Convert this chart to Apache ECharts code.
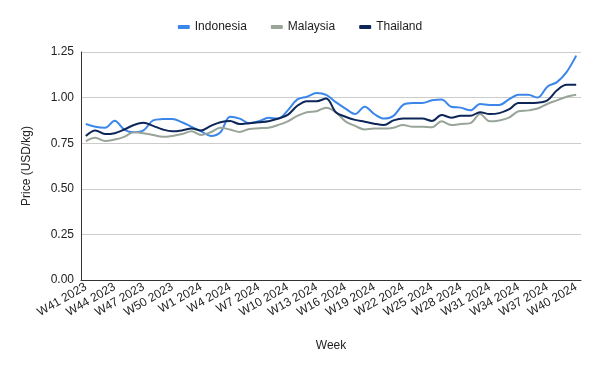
<!DOCTYPE html>
<html>
<head>
<meta charset="utf-8">
<script src="https://cdn.jsdelivr.net/npm/echarts@6/dist/echarts.min.js"></script>
<style>html,body{margin:0;padding:0;background:#fff;}#c{width:600px;height:371px;}</style>
</head>
<body>
<div id="c"></div>
<script>
const weeks = [];
for (let w = 41; w <= 52; w++) weeks.push('W' + w + ' 2023');
for (let w = 1; w <= 40; w++) weeks.push('W' + w + ' 2024');

const indonesia = [0.855,0.84,0.835,0.873,0.825,0.81,0.82,0.875,0.882,0.883,
  0.865,0.84,0.815,0.79,0.81,0.895,0.885,0.86,0.87,0.89,
  0.885,0.93,0.99,1.005,1.025,1.015,0.975,0.94,0.91,0.95,
  0.91,0.885,0.90,0.96,0.97,0.97,0.985,0.99,0.95,0.945,
  0.93,0.965,0.96,0.96,0.99,1.015,1.015,1.0,1.06,1.085,
  1.14,1.23];
const malaysia = [0.762,0.78,0.762,0.77,0.785,0.81,0.805,0.795,0.785,0.79,
  0.80,0.815,0.795,0.81,0.835,0.825,0.812,0.828,0.832,0.835,
  0.85,0.87,0.90,0.92,0.925,0.945,0.92,0.87,0.845,0.825,
  0.83,0.83,0.835,0.85,0.84,0.84,0.838,0.87,0.85,0.855,
  0.86,0.91,0.87,0.875,0.89,0.925,0.93,0.94,0.965,0.985,
  1.005,1.015];
const thailand = [0.79,0.82,0.80,0.805,0.825,0.85,0.862,0.845,0.825,0.815,
  0.82,0.83,0.82,0.845,0.865,0.872,0.855,0.86,0.865,0.87,
  0.885,0.905,0.955,0.98,0.98,0.995,0.92,0.895,0.878,0.868,
  0.857,0.85,0.875,0.886,0.886,0.886,0.872,0.905,0.89,0.90,
  0.90,0.92,0.91,0.915,0.935,0.97,0.97,0.972,0.985,1.04,
  1.07,1.07];
const yTicks = [0, 0.25, 0.5, 0.75, 1.0, 1.25];

const chart = echarts.init(document.getElementById('c'));
const font = 'Liberation Sans, Arial, sans-serif';
function mk(name, data, color) {
  return { name, type: 'line', data, smooth: 0.35, showSymbol: false, symbol: 'none',
    lineStyle: { width: 2, color }, itemStyle: { color } };
}
chart.setOption({
  animation: false,
  textStyle: { fontFamily: font },
  legend: {
    top: 16, left: 'center', icon: 'roundRect', itemWidth: 12, itemHeight: 4, itemGap: 24,
    textStyle: { fontSize: 12, color: '#222', fontFamily: font },
    data: ['Indonesia', 'Malaysia', 'Thailand']
  },
  grid: { left: 81, right: 19, top: 52, bottom: 91 },
  xAxis: {
    type: 'category', data: weeks, boundaryGap: true,
    name: 'Week', nameLocation: 'middle', nameGap: 60,
    nameTextStyle: { fontSize: 12, color: '#222' },
    axisLine: { lineStyle: { color: '#333', width: 1 } },
    axisTick: { show: false },
    axisLabel: { interval: 2, rotate: 30, fontSize: 12, color: '#222', margin: 6 }
  },
  yAxis: {
    type: 'value', min: yTicks[0], max: yTicks[yTicks.length - 1], interval: 0.25,
    name: 'Price (USD/kg)', nameLocation: 'middle', nameGap: 48,
    nameTextStyle: { fontSize: 12, color: '#222' },
    axisLine: { show: true, lineStyle: { color: '#333', width: 1 } },
    axisTick: { show: false },
    axisLabel: { fontSize: 12, color: '#222', margin: 7, formatter: v => v.toFixed(2) },
    splitLine: { lineStyle: { color: '#cccccc' } }
  },
  series: [
    mk('Indonesia', indonesia, '#3a86ea'),
    mk('Malaysia', malaysia, '#98a598'),
    mk('Thailand', thailand, '#0d2658')
  ]
});
</script>
</body>
</html>
